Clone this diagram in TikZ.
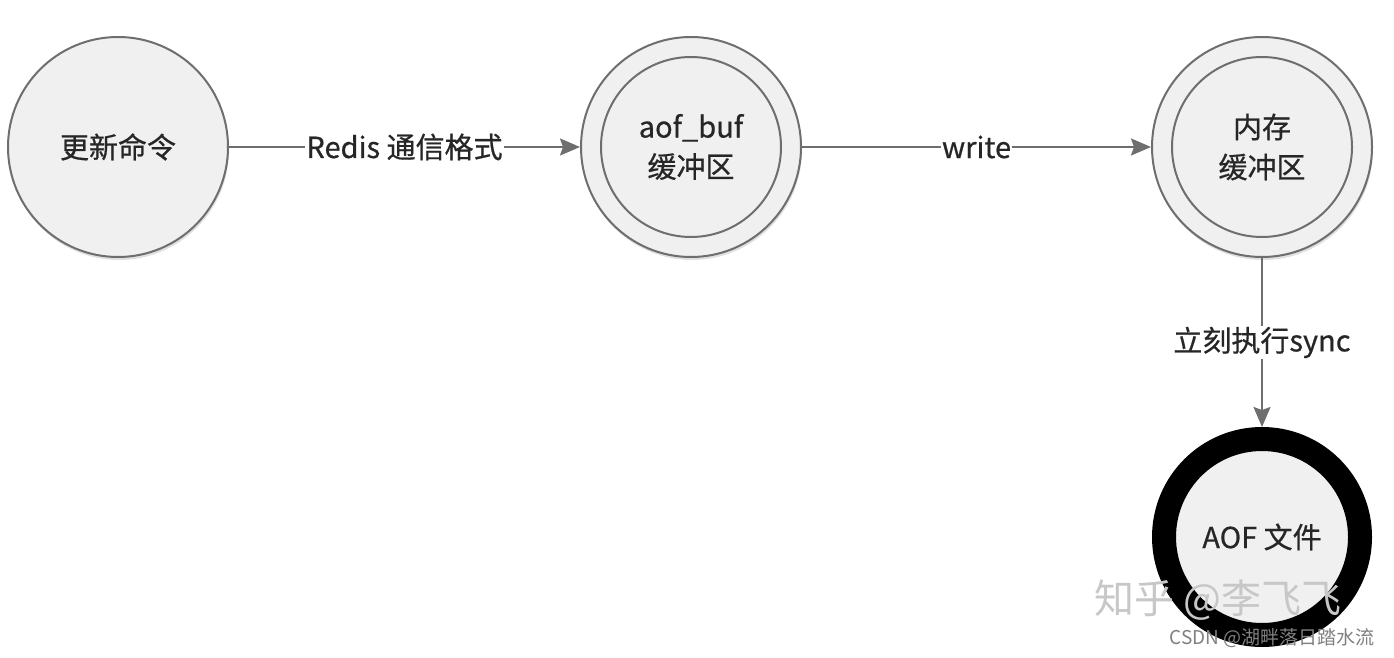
\documentclass[tikz,border=0pt]{standalone}
\usepackage{fontspec}
\setmainfont{Noto Sans CJK SC}
\newfontfamily\medfont{Noto Sans CJK SC}[FakeBold=0.6]
\usetikzlibrary{arrows.meta,shadows}
\definecolor{edgegray}{HTML}{6E6E6E}
\definecolor{nodefill}{HTML}{F0F0F0}
\definecolor{txt}{HTML}{262626}
\begin{document}
\begin{tikzpicture}[x=1pt,y=-1pt,
  state/.style={circle, draw=edgegray, line width=2pt, fill=nodefill, minimum size=220pt, inner sep=0pt, align=center,
    font=\medfont\fontsize{29}{40}\selectfont, text=txt,
    drop shadow={shadow xshift=1pt, shadow yshift=-3pt, opacity=0.12, fill=black}},
  innerring/.style={circle, draw=edgegray, line width=2pt, minimum size=180pt, inner sep=0pt, align=center,
    font=\medfont\fontsize{29}{40}\selectfont, text=txt},
  filering/.style={circle, draw=black, line width=24pt, fill=nodefill, minimum size=196pt, inner sep=0pt, outer sep=12pt,
    align=center, font=\medfont\fontsize{29}{40}\selectfont, text=txt},
  conn/.style={draw=edgegray, line width=2pt, -{Stealth[length=20pt,width=17pt,inset=3pt]}},
  lbl/.style={fill=white, inner sep=1pt, font=\medfont\fontsize{29}{32}\selectfont, text=txt}]
\useasboundingbox[fill=white] (0,0) rectangle (1394,658);
% nodes
\node[state] (cmd) at (118,147) {更新命令};
\node[state] (buf) at (691,147) {};
\node[innerring] (bufin) at (691,147) {aof\_buf\\缓冲区};
\node[state] (mem) at (1262,147) {};
\node[innerring] (memin) at (1262,147) {内存\\缓冲区};
\node[filering] (aof) at (1262,537) {AOF 文件};
% connectors
\draw[conn] (cmd) -- node[lbl] (l1) {Redis 通信格式} (buf);
\draw[conn] (buf) -- node[lbl] (l2) {write} (mem);
\draw[conn] (mem) -- node[lbl] (l3) {立刻执行sync} (aof);
% watermarks
\node[font=\fontsize{40}{44}\selectfont, text=black!22] (wm1) at (1218,600) {知乎 @李飞飞};
\node[font=\fontsize{19}{22}\selectfont, text=black!50] (wm2) at (1272,638) {CSDN @湖畔落日踏水流};
\end{tikzpicture}
\end{document}
